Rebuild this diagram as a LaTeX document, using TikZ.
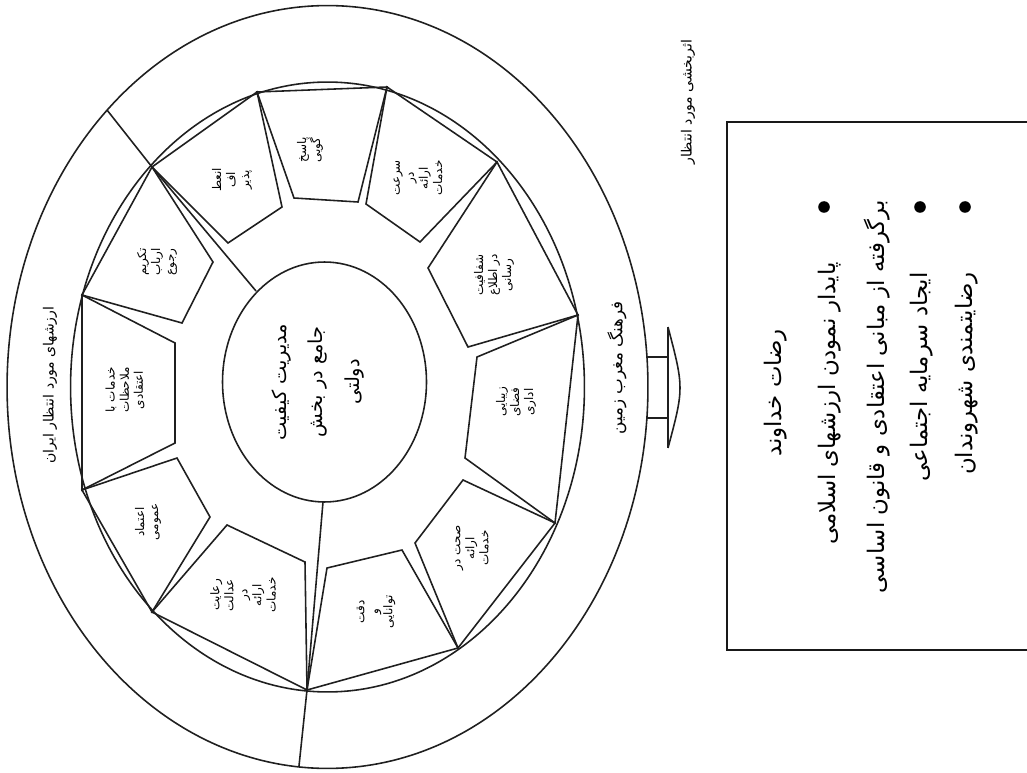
\documentclass[tikz,border=0pt]{standalone}
\usepackage{fontspec}
\TeXXeTstate=1
\newfontfamily\arabicfont[Script=Arabic]{DejaVu Sans}
\newcommand{\fa}[1]{{\arabicfont\beginR #1\endR}}
\begin{document}
\begin{tikzpicture}[x=0.02cm,y=-0.02cm,
  ln/.style={line width=0.9pt, draw=black!88},
  boxline/.style={line width=1.2pt, draw=black!90},
  seg/.style={ln, line join=miter},
  lbl/.style={rotate=90, align=center, inner sep=0pt, font=\fontsize{6.8}{8}\selectfont},
  ctr/.style={rotate=90, align=center, inner sep=0pt, font=\fontsize{11}{21}\selectfont},
  ring/.style={rotate=90, inner sep=0pt},
  boxtxt/.style={rotate=90, inner sep=0pt, anchor=east, font=\fontsize{13}{15}\selectfont},
  dot/.style={circle, fill=black, inner sep=0pt, minimum size=6.6pt}
]
\useasboundingbox (0,0) rectangle (1027,773);

% ellipses
\coordinate (O) at (327.5,387);
\coordinate (Oc) at (324.5,382);
\draw[ln] (O) ellipse [x radius=6.41cm, y radius=7.63cm];
\draw[ln] (O) ellipse [x radius=5.14cm, y radius=6.10cm];
\draw[ln] (Oc) ellipse [x radius=2.04cm, y radius=2.40cm];

% vertices on the middle ellipse
\coordinate (A) at (152,167);
\coordinate (B) at (257,92);
\coordinate (C) at (387,87);
\coordinate (D) at (497,162);
\coordinate (E) at (578,315);
\coordinate (F) at (555,523);
\coordinate (G) at (458,648);
\coordinate (H) at (307,690);
\coordinate (I) at (152,612);
\coordinate (J) at (82,490);
\coordinate (K) at (82,295);

% segments
\draw[seg] (A) -- (B) -- (282,207) -- (228,243) -- cycle;
\draw[seg] (B) -- (C) -- (358,202) -- (294,198) -- cycle;
\draw[seg] (C) -- (D) -- (420,242) -- (366,204) -- cycle;
\draw[seg] (D) -- (E) -- (468,347) -- (428,268) -- cycle;
\draw[seg] (E) -- (F) -- (465,458) -- (477,357) -- cycle;
\draw[seg] (F) -- (G) -- (415,543) -- (463,480) -- cycle;
\draw[seg] (G) -- (H) -- (327,568) -- (402,550) -- cycle;
\draw[seg] (H) -- (I) -- (227,525) -- (305,562) -- cycle;
\draw[seg] (I) -- (J) -- (177,458) -- (210,517) -- cycle;
\draw[seg] (J) -- (K) -- (175,343) -- (175,443) -- cycle;
\draw[seg] (K) -- (A) -- (213,262) -- (182,323) -- cycle;

% dividing lines
\coordinate (r1o) at (107,110);
\coordinate (r1i) at (256,291);
\coordinate (r2o) at (299,766);
\coordinate (r2i) at (323,502);
\draw[ln] (r1o) -- (A) -- (r1i);
\draw[ln] (r2o) -- (H) -- (r2i);

% arrow on the right
\coordinate (s1) at (647,357);
\coordinate (s2) at (647,418);
\coordinate (h1) at (668,357);
\coordinate (h2) at (668,418);
\coordinate (ht) at (668,327);
\coordinate (hb) at (668,448);
\draw[ln] (s1) -- (h1);
\draw[ln] (s2) -- (h2);
\draw[ln] (ht) -- (hb);
\draw[ln] (ht) .. controls (684,388) .. (hb);

% centre text
\node[ctr] (center) at (318,382) {\fa{مدیریت کیفیت}\\\fa{جامع در بخش}\\\fa{دولتی}};

% segment labels
\node[lbl] (tAB) at (232,180) {\fa{انعط}\\\fa{اف}\\\fa{پذیر}};
\node[lbl] (tBC) at (310,150) {\fa{پاسخ}\\\fa{گویی}};
\node[lbl] (tCD) at (418,178) {\fa{سرعت}\\\fa{در}\\\fa{ارائه}\\\fa{خدمات}};
\node[lbl] (tDE) at (494,275) {\fa{شفافیت}\\\fa{در اطلاع}\\\fa{رسانی}};
\node[lbl] (tEF) at (516,402) {\fa{زیبایی}\\\fa{فضای}\\\fa{اداری}};
\node[lbl] (tFG) at (472,548) {\fa{صحت در}\\\fa{ارائه}\\\fa{خدمات}};
\node[lbl] (tGH) at (376,612) {\fa{دقت}\\\fa{و}\\\fa{توانایی}};
\node[lbl] (tHI) at (243,595) {\fa{رعایت}\\\fa{عدالت}\\\fa{در}\\\fa{ارائه}\\\fa{خدمات}};
\node[lbl] (tIJ) at (148,522) {\fa{اعتماد}\\\fa{عمومی}};
\node[lbl] (tJK) at (125,390) {\fa{خدمات با}\\\fa{ملاحظات}\\\fa{اعتقادی}};
\node[lbl] (tKA) at (157,262) {\fa{تکریم}\\\fa{ارباب}\\\fa{رجوع}};

% ring labels
\node[ring, font=\fontsize{8}{10}\selectfont] (tleft) at (50,385) {\fa{ارزشهای مورد انتظار ایران}};
\node[ring, font=\fontsize{9.5}{11}\selectfont] (tright) at (617,368) {\fa{فرهنگ مغرب زمین}};
\node[ring, font=\fontsize{8}{10}\selectfont] (teff) at (688,102) {\fa{اثربخشی مورد انتظار}};

% right panel
\coordinate (b1) at (1030,122);
\coordinate (b2) at (727,122);
\coordinate (b3) at (727,650);
\coordinate (b4) at (1030,650);
\draw[boxline] (b1) -- (b2) -- (b3) -- (b4);

\node[rotate=90, inner sep=0pt, font=\fontsize{13}{15}\selectfont] (g0) at (776,393) {\fa{رضات خداوند}};
\node[dot] (d1) at (824,207) {};
\node[dot] (d2) at (920,207) {};
\node[dot] (d3) at (965,207) {};
\node[boxtxt] (g1) at (830,262) {\fa{پایدار نمودن ارزشهای اسلامی}};
\node[boxtxt] (g2) at (877,200) {\fa{برگرفته از مبانی اعتقادی و قانون اساسی}};
\node[boxtxt] (g3) at (922,272) {\fa{ایجاد سرمایه اجتماعی}};
\node[boxtxt] (g4) at (967,272) {\fa{رضایتمندی شهروندان}};
\end{tikzpicture}
\end{document}
